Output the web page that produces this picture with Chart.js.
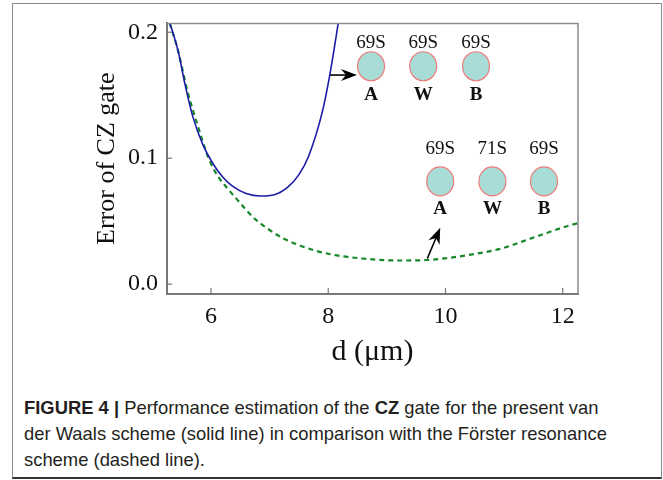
<!DOCTYPE html>
<html>
<head>
<meta charset="utf-8">
<script src="https://cdn.jsdelivr.net/npm/chart.js@4.4.0/dist/chart.umd.min.js"></script>
<style>
  html, body { margin: 0; padding: 0; background: #fff; }
  body { width: 663px; height: 480px; position: relative; overflow: hidden; }
  #frame { position: absolute; left: 12px; top: 3px; width: 650px; height: 476px;
           border: 1.5px solid #8a8a8a; border-bottom: 2px solid #333; box-sizing: border-box; }
  #wrap { position: absolute; left: 0; top: 0; width: 663px; height: 380px; }
  #caption { position: absolute; left: 24px; top: 395px; white-space: nowrap;
             font-family: "Liberation Sans", Arial, sans-serif; font-size: 18.4px;
             line-height: 26px; color: #231f20; }
  #caption b { font-weight: bold; }
</style>
</head>
<body>
<div id="frame"></div>
<div id="wrap"><canvas id="chartCZ"></canvas></div>
<div id="caption">
  <b>FIGURE 4 |</b> Performance estimation of the <b>CZ</b> gate for the present van<br>
  der Waals scheme (solid line) in comparison with the Förster resonance<br>
  scheme (dashed line).
</div>

<script>
// distances d (um) and gate errors
const vdwD   = [5.25, 5.44, 5.56, 5.69, 5.86, 6.03, 6.2, 6.36, 6.6, 6.84, 7.08, 7.31, 7.5, 7.66, 7.9, 8.03, 8.17, 8.24];
const vdwErr = [0.214, 0.185, 0.158, 0.133, 0.111, 0.096, 0.085, 0.078, 0.072, 0.070, 0.071, 0.077, 0.087, 0.101, 0.137, 0.167, 0.207, 0.228];

const frD   = [5.25, 5.44, 5.6, 5.78, 5.95, 6.12, 6.3, 6.44, 6.6, 6.75, 7.0, 7.21, 7.5, 7.77, 8.15, 8.58, 9.2, 9.7, 10.08, 10.5, 10.93, 11.5, 12.0, 12.3];
const frErr = [0.214, 0.185, 0.153, 0.125, 0.101, 0.0855, 0.075, 0.0675, 0.059, 0.0518, 0.043, 0.0369, 0.031, 0.0267, 0.0228, 0.0204, 0.0188, 0.0192, 0.021, 0.024, 0.028, 0.037, 0.045, 0.049];

const xTicks = [6, 8, 10, 12];
const yTicks = [0.0, 0.1, 0.2];

// atom sketches
const atomNames = ['A', 'W', 'B'];
const vdwStates = ['69S', '69S', '69S'];
const frStates  = ['69S', '71S', '69S'];

const serif = '"Liberation Serif", "Times New Roman", serif';

// where the little atom rows sit (data units)
const insets = [
  { xs: [8.73, 9.62, 10.52], y: 0.173, up: 23, down: 29, states: vdwStates,
    arrow: [[8.03, 0.166], [8.49, 0.166]] },
  { xs: [9.91, 10.80, 11.68], y: 0.0816, up: 32, down: 28, states: frStates,
    arrow: [[9.69, 0.0204], [9.91, 0.0447]] }
];

function pts(xs, ys) { return xs.map((x, i) => ({ x: x, y: ys[i] })); }

function arrow(ctx, x1, y1, x2, y2) {
  const a = Math.atan2(y2 - y1, x2 - x1);
  ctx.save();
  ctx.translate(x2, y2);
  ctx.rotate(a);
  const len = Math.hypot(x2 - x1, y2 - y1);
  ctx.strokeStyle = '#000';
  ctx.lineWidth = 1.6;
  ctx.beginPath();
  ctx.moveTo(-len, 0);
  ctx.lineTo(-8, 0);
  ctx.stroke();
  ctx.fillStyle = '#000';
  ctx.beginPath();
  ctx.moveTo(0, 0);
  ctx.lineTo(-16, -6);
  ctx.lineTo(-11, 0);
  ctx.lineTo(-16, 6);
  ctx.closePath();
  ctx.fill();
  ctx.restore();
}

const framePlugin = {
  id: 'frame',
  afterDraw(chart) {
    const { ctx, chartArea: a, scales } = chart;
    ctx.save();
    ctx.strokeStyle = '#8c8c8c';
    ctx.lineWidth = 1.5;
    ctx.beginPath();
    ctx.moveTo(a.left, a.top);
    ctx.lineTo(a.right, a.top);
    ctx.lineTo(a.right, a.bottom);
    ctx.stroke();
    // inward ticks
    ctx.strokeStyle = '#777';
    ctx.lineWidth = 1.2;
    scales.x.ticks.forEach(t => {
      const px = scales.x.getPixelForValue(t.value);
      ctx.beginPath(); ctx.moveTo(px, a.bottom); ctx.lineTo(px, a.bottom - 6); ctx.stroke();
    });
    scales.y.ticks.forEach(t => {
      const py = scales.y.getPixelForValue(t.value);
      ctx.beginPath(); ctx.moveTo(a.left, py); ctx.lineTo(a.left + 5, py); ctx.stroke();
    });
    ctx.restore();
  },
  afterDatasetsDraw(chart) {
    const { ctx, scales } = chart;
    ctx.save();
    insets.forEach(row => {
      const cy = scales.y.getPixelForValue(row.y);
      row.xs.forEach((d, i) => {
        const cx = scales.x.getPixelForValue(d);
        ctx.beginPath();
        ctx.ellipse(cx, cy, 13.5, 14.5, 0, 0, Math.PI * 2);
        ctx.fillStyle = '#a8dcd6';
        ctx.fill();
        ctx.strokeStyle = '#ee7b7b';
        ctx.lineWidth = 1.2;
        ctx.stroke();
        ctx.fillStyle = '#111';
        ctx.textAlign = 'center';
        ctx.textBaseline = 'middle';
        ctx.font = '19px ' + serif;
        ctx.fillText(row.states[i], cx, cy - row.up);
        ctx.font = 'bold 19px ' + serif;
        ctx.fillText(atomNames[i], cx, cy + row.down);
      });
      const [p, q] = row.arrow;
      arrow(ctx,
        scales.x.getPixelForValue(p[0]), scales.y.getPixelForValue(p[1]),
        scales.x.getPixelForValue(q[0]), scales.y.getPixelForValue(q[1]));
    });
    ctx.restore();
  }
};

const chartCZ = new Chart(document.getElementById('chartCZ'), {
  type: 'scatter',
  data: {
    datasets: [
      {
        label: 'van der Waals',
        data: pts(vdwD, vdwErr),
        showLine: true,
        borderColor: '#1c1ca8',
        borderWidth: 1.6,
        pointRadius: 0,
        cubicInterpolationMode: 'monotone'
      },
      {
        label: 'Förster resonance',
        data: pts(frD, frErr),
        showLine: true,
        borderColor: '#17882a',
        borderWidth: 2.2,
        borderDash: [5, 4],
        pointRadius: 0,
        cubicInterpolationMode: 'monotone'
      }
    ]
  },
  options: {
    responsive: true,
    maintainAspectRatio: false,
    animation: false,
    layout: { padding: { top: 20, right: 85, left: 0, bottom: 0 } },
    plugins: { legend: { display: false }, tooltip: { enabled: false } },
    scales: {
      x: {
        type: 'linear', min: 5.25, max: 12.26,
        afterFit: s => { s.height = 86; },
        afterBuildTicks: s => { s.ticks = xTicks.map(v => ({ value: v })); },
        grid: { display: true, drawOnChartArea: false, drawTicks: false },
        border: { color: '#777', width: 2 },
        ticks: { color: '#111', padding: 8, font: { family: serif, size: 24 } },
        title: { display: true, text: 'd (μm)', color: '#111', padding: { bottom: 10 },
                 font: { family: serif, size: 30 } }
      },
      y: {
        type: 'linear', min: -0.0078, max: 0.207,
        afterFit: s => { s.width = 167; },
        afterBuildTicks: s => { s.ticks = yTicks.map(v => ({ value: v })); },
        grid: { display: true, drawOnChartArea: false, drawTicks: false },
        border: { color: '#777', width: 2 },
        ticks: { color: '#111', padding: 9, font: { family: serif, size: 24 },
                 callback: v => v.toFixed(1) },
        title: { display: true, text: 'Error of CZ gate', color: '#111', padding: { top: 92 },
                 font: { family: serif, size: 26 } }
      }
    }
  },
  plugins: [framePlugin]
});
</script>
</body>
</html>
